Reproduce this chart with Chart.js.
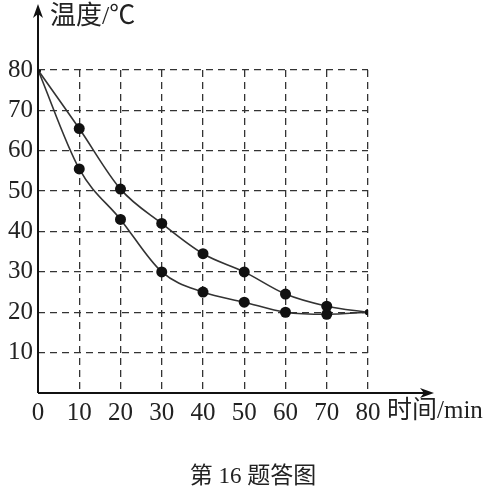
<!DOCTYPE html>
<html>
<head>
<meta charset="utf-8">
<script src="https://cdn.jsdelivr.net/npm/chart.js@4"></script>
<style>
  html, body { margin: 0; padding: 0; background: #fff; }
  #wrap { width: 502px; height: 495px; position: relative; }
</style>
</head>
<body>
<div id="wrap"><canvas id="grafico"></canvas></div>
<script>
// tempo em minutos
var tempos = [0, 10, 20, 30, 40, 50, 60, 70, 80]
// curva de cima e curva de baixo (temperatura em ℃)
var tempCimaValores = [80, 65.5, 50.5, 42, 34.5, 30, 24.5, 21.5, 20]
var tempBaixoValores = [80, 55.5, 43, 30, 25, 22.5, 20, 19.5, 20]
var tamanhosPontos = [3, 5.5, 5.5, 5.5, 5.5, 5.5, 5.5, 5.5, 3]
var ticksY = [10, 20, 30, 40, 50, 60, 70, 80]
var tituloY = '温度/℃'
var tituloX = '时间/min'
var legenda = '第 16 题答图'

const fonteNum = '"Liberation Serif", "DejaVu Serif", serif'
const fonteCJK = '"Liberation Serif", "Noto Sans CJK SC", serif'

function montarPontos(valores) {
    return tempos.map((t, i) => ({ x: t, y: valores[i] }))
}

const eixosPlugin = {
    id: 'eixos',
    afterDraw(chart) {
        const ctx = chart.ctx
        const area = chart.chartArea
        ctx.save()
        ctx.strokeStyle = '#111'
        ctx.fillStyle = '#111'
        ctx.lineWidth = 2
        // eixo y com seta
        ctx.beginPath()
        ctx.moveTo(area.left, area.bottom)
        ctx.lineTo(area.left, 12)
        ctx.stroke()
        ctx.beginPath()
        ctx.moveTo(area.left, 4)
        ctx.lineTo(area.left - 5, 18)
        ctx.lineTo(area.left, 14)
        ctx.lineTo(area.left + 5, 18)
        ctx.closePath()
        ctx.fill()
        // eixo x com seta
        ctx.beginPath()
        ctx.moveTo(area.left, area.bottom)
        ctx.lineTo(424, area.bottom)
        ctx.stroke()
        ctx.beginPath()
        ctx.moveTo(434, area.bottom)
        ctx.lineTo(420, area.bottom - 5)
        ctx.lineTo(424, area.bottom)
        ctx.lineTo(420, area.bottom + 5)
        ctx.closePath()
        ctx.fill()

        ctx.fillStyle = '#222'
        ctx.textBaseline = 'middle'
        ctx.font = '26px ' + fonteCJK
        ctx.textAlign = 'left'
        ctx.fillText(tituloY, 50, 17)
        ctx.font = '25px ' + fonteCJK
        ctx.fillText(tituloX, 387, 411)
        ctx.textAlign = 'center'
        ctx.font = '23px ' + fonteCJK
        ctx.fillText(legenda, 253, 477)
        ctx.restore()
    }
}

let graficoTemperatura = new Chart(document.getElementById('grafico'), {
    type: 'line',
    data: {
        datasets: [{
            label: 'cima',
            data: montarPontos(tempCimaValores),
            borderColor: '#333',
            borderWidth: 1.6,
            backgroundColor: '#111',
            pointBackgroundColor: '#111',
            pointBorderWidth: 0,
            pointRadius: tamanhosPontos,
            cubicInterpolationMode: 'monotone',
            fill: false
        }, {
            label: 'baixo',
            data: montarPontos(tempBaixoValores),
            borderColor: '#333',
            borderWidth: 1.6,
            backgroundColor: '#111',
            pointBackgroundColor: '#111',
            pointBorderWidth: 0,
            pointRadius: tamanhosPontos,
            cubicInterpolationMode: 'monotone',
            fill: false
        }]
    },
    options: {
        responsive: true,
        maintainAspectRatio: false,
        animation: false,
        events: [],
        layout: {
            padding: { left: 0, top: 70, right: 134, bottom: 70 }
        },
        plugins: {
            legend: { display: false },
            tooltip: { enabled: false }
        },
        scales: {
            x: {
                type: 'linear',
                min: 0,
                max: 80,
                afterFit: (scale) => { scale.height = 32 },
                ticks: {
                    stepSize: 10,
                    autoSkip: false,
                    maxRotation: 0,
                    padding: 5,
                    color: '#222',
                    font: { family: fonteNum, size: 25 }
                },
                grid: {
                    drawTicks: false,
                    color: (c) => c.tick.value === 0 ? 'rgba(0,0,0,0)' : '#333',
                    lineWidth: 1.3
                },
                border: { display: false, dash: [7, 5] }
            },
            y: {
                min: 0,
                max: 80,
                afterFit: (scale) => { scale.width = 38 },
                afterBuildTicks: (scale) => {
                    scale.ticks = ticksY.map(v => ({ value: v }))
                },
                ticks: {
                    padding: 5,
                    color: '#222',
                    font: { family: fonteNum, size: 25 }
                },
                grid: {
                    drawTicks: false,
                    color: '#333',
                    lineWidth: 1.3
                },
                border: { display: false, dash: [7, 5] }
            }
        }
    },
    plugins: [eixosPlugin]
});
</script>
</body>
</html>
